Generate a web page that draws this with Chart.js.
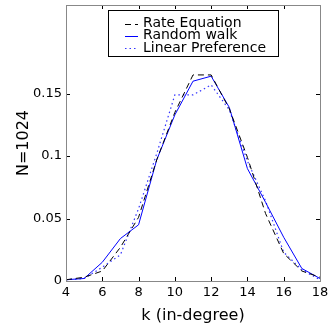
<!DOCTYPE html>
<html>
<head>
<meta charset="utf-8">
<script src="https://cdn.jsdelivr.net/npm/chart.js@4/dist/chart.umd.min.js"></script>
<style>
  html, body { margin: 0; padding: 0; background: #fff; }
  #wrap { width: 329px; height: 329px; }
</style>
</head>
<body>
<div id="wrap"><canvas id="c" width="329" height="329"></canvas></div>
<script>
// k values (in-degree)
const kValues = [4, 5, 6, 7, 8, 9, 10, 11, 12, 13, 14, 15, 16, 17, 18];

// series
const rateEquation = [0.001, 0.003, 0.008, 0.027, 0.051, 0.097, 0.135, 0.165, 0.165, 0.138, 0.099, 0.054, 0.022, 0.008, 0.003];
const randomWalk = [0.001, 0.002, 0.015, 0.034, 0.045, 0.097, 0.133, 0.160, 0.164, 0.139, 0.090, 0.063, 0.035, 0.010, 0.002];
const linearPref = [0.001, 0.002, 0.011, 0.021, 0.058, 0.102, 0.149, 0.149, 0.157, 0.137, 0.096, 0.064, 0.023, 0.009, 0.001];

const xTicks = [4, 6, 8, 10, 12, 14, 16, 18];
const yTicks = [0, 0.05, 0.1, 0.15];
const yLabels = ['0', '0.05', '0.1', '0.15'];

const FONT = 'DejaVu Sans';

function pts(arr) {
  return arr.map((v, i) => ({ x: kValues[i], y: v }));
}

// frame + inward ticks like matplotlib
const framePlugin = {
  id: 'frame',
  afterDatasetsDraw(chart) {
    const { ctx, chartArea: a, scales } = chart;
    ctx.save();
    ctx.strokeStyle = '#000';
    ctx.lineWidth = 1;
    const len = 4;
    xTicks.forEach(t => {
      const x = Math.round(scales.x.getPixelForValue(t)) + 0.5;
      ctx.beginPath();
      ctx.moveTo(x, a.bottom); ctx.lineTo(x, a.bottom - len);
      ctx.moveTo(x, a.top); ctx.lineTo(x, a.top + len);
      ctx.stroke();
    });
    yTicks.forEach(t => {
      const y = Math.round(scales.y.getPixelForValue(t)) + 0.5;
      ctx.beginPath();
      ctx.moveTo(a.left, y); ctx.lineTo(a.left + len, y);
      ctx.moveTo(a.right, y); ctx.lineTo(a.right - len, y);
      ctx.stroke();
    });
    ctx.strokeStyle = '#888';
    ctx.strokeRect(Math.round(a.left) + 0.5, Math.round(a.top) + 0.5,
      Math.round(a.right - a.left), Math.round(a.bottom - a.top));
    ctx.restore();
  },
  afterDraw(chart) {
    // boxed legend inside the plot
    const { ctx } = chart;
    const bx = 108.5, by = 10.5, bw = 170, bh = 46;
    ctx.save();
    ctx.fillStyle = '#fff';
    ctx.fillRect(bx, by, bw, bh);
    ctx.strokeStyle = '#000';
    ctx.lineWidth = 1;
    ctx.strokeRect(bx, by, bw, bh);
    ctx.font = '14px "' + FONT + '"';
    ctx.textBaseline = 'middle';
    ctx.fillStyle = '#000';
    chart.data.datasets.forEach((ds, i) => {
      const y = 23.5 + i * 12.3;
      ctx.strokeStyle = ds.borderColor;
      ctx.lineWidth = ds.borderWidth;
      ctx.setLineDash(ds.borderDash || []);
      ctx.beginPath();
      ctx.moveTo(125, Math.round(y) + 0.5);
      ctx.lineTo(138, Math.round(y) + 0.5);
      ctx.stroke();
      ctx.setLineDash([]);
      ctx.fillText(ds.label, 143, y);
    });
    ctx.restore();
  }
};

new Chart(document.getElementById('c'), {
  type: 'line',
  data: {
    datasets: [
      { label: 'Rate Equation', data: pts(rateEquation), borderColor: '#000', borderWidth: 1, borderDash: [6, 4] },
      { label: 'Random walk', data: pts(randomWalk), borderColor: '#0000ff', borderWidth: 1 },
      { label: 'Linear Preference', data: pts(linearPref), borderColor: '#3333ff', borderWidth: 1.2, borderDash: [1.5, 3] }
    ]
  },
  options: {
    responsive: false,
    animation: false,
    layout: { padding: { top: 5, right: 9, left: 10, bottom: 0 } },
    elements: { point: { radius: 0 }, line: { tension: 0 } },
    plugins: { legend: { display: false }, tooltip: { enabled: false } },
    scales: {
      x: {
        type: 'linear', min: 4, max: 18,
        afterBuildTicks: s => { s.ticks = xTicks.map(v => ({ value: v })); },
        afterFit: s => { s.height = 48; s.paddingLeft = 0; s.paddingRight = 0; },
        grid: { display: false, drawTicks: false },
        border: { display: false },
        ticks: { color: '#000', font: { family: FONT, size: 13 }, padding: 4, maxRotation: 0 },
        title: { display: true, text: 'k (in-degree)', color: '#000', font: { family: FONT, size: 16 }, padding: { top: 6 } }
      },
      y: {
        type: 'linear', min: 0, max: 0.221,
        afterBuildTicks: s => { s.ticks = yTicks.map(v => ({ value: v })); },
        afterFit: s => { s.width = 56; s.paddingTop = 0; s.paddingBottom = 0; },
        grid: { display: false, drawTicks: false },
        border: { display: false },
        ticks: {
          color: '#000', font: { family: FONT, size: 13 }, padding: 4,
          callback: (v) => yLabels[yTicks.indexOf(v)]
        },
        title: { display: true, text: 'N=1024', color: '#000', font: { family: FONT, size: 16 }, padding: { bottom: 4 } }
      }
    }
  },
  plugins: [framePlugin]
});
</script>
</body>
</html>
